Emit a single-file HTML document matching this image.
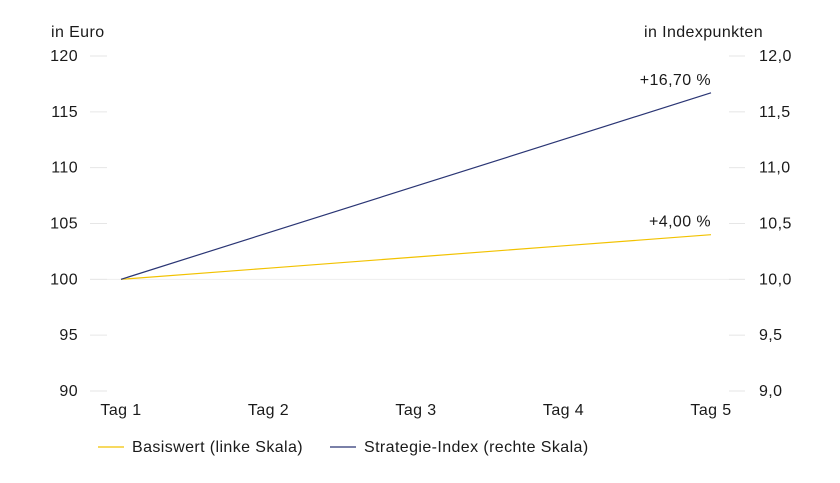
<!DOCTYPE html>
<html><head><meta charset="utf-8"><style>
body{margin:0;background:#fff;}
svg{font-family:"Liberation Sans",sans-serif;}
svg text{letter-spacing:0.4px;}
</style></head><body>
<svg id="chart" width="840" height="478" xmlns="http://www.w3.org/2000/svg">
<text x="51" y="37" font-size="16" fill="#1a1a1a">in Euro</text>
<text x="763" y="37" font-size="16" fill="#1a1a1a" text-anchor="end">in Indexpunkten</text>
<g id="axes"></g>
<g id="lines"></g>
<g>
<line x1="98" y1="447" x2="124" y2="447" stroke="#f2c200" stroke-width="1.2"/>
<text x="132" y="452" font-size="16" fill="#1a1a1a">Basiswert (linke Skala)</text>
<line x1="330" y1="447" x2="356" y2="447" stroke="#2a3574" stroke-width="1.2"/>
<text x="364" y="452" font-size="16" fill="#1a1a1a">Strategie-Index (rechte Skala)</text>
</g>
</svg>
<script>
const categories=["Tag 1","Tag 2","Tag 3","Tag 4","Tag 5"];
const basiswert=[100,101,102,103,104];
const strategie=[10.0,10.4175,10.835,11.2525,11.67];
const leftTicks=[90,95,100,105,110,115,120];
const rightTicks=["9,0","9,5","10,0","10,5","11,0","11,5","12,0"];
const rightTickVals=[9,9.5,10,10.5,11,11.5,12];
const endLabels=["+4,00 %","+16,70 %"];
const NS="http://www.w3.org/2000/svg";
const yL=v=>391-(v-90)/30*335;
const yR=v=>391-(v-9)/3*335;
const x=i=>121+i*147.5;
const ax=document.getElementById('axes'), ln=document.getElementById('lines');
function mk(tag,attrs,parent,txt){const e=document.createElementNS(NS,tag);for(const k in attrs)e.setAttribute(k,attrs[k]);if(txt!==undefined)e.textContent=txt;parent.appendChild(e);return e;}
const base=mk('line',{x1:90,x2:745,y1:yL(100),y2:yL(100),stroke:'#eeeeee','stroke-width':1},ax);


leftTicks.forEach(v=>{
 const t=mk('line',{x1:90,x2:107,y1:yL(v),y2:yL(v),stroke:'#e6e6e6'},ax);
 
 
 const l=mk('text',{x:78,y:yL(v)+5,'font-size':16,fill:'#1a1a1a','text-anchor':'end'},ax,String(v));
 
 
});
rightTickVals.forEach((v,i)=>{
 const t=mk('line',{x1:729,x2:745,y1:yR(v),y2:yR(v),stroke:'#e6e6e6'},ax);
 
 
 const l=mk('text',{x:759,y:yR(v)+5,'font-size':16,fill:'#1a1a1a'},ax,rightTicks[i]);
 
 
});
categories.forEach((c,i)=>{
 const l=mk('text',{x:x(i),y:415,'font-size':16,fill:'#1a1a1a','text-anchor':'middle'},ax,c);
 
 
});
const p1=mk('polyline',{points:basiswert.map((v,i)=>x(i)+','+yL(v)).join(' '),fill:'none',stroke:'#f2c200','stroke-width':1.2},ln);


const p2=mk('polyline',{points:strategie.map((v,i)=>x(i)+','+yR(v)).join(' '),fill:'none',stroke:'#2a3574','stroke-width':1.2},ln);


const n=categories.length-1;
const e1=mk('text',{x:x(n),y:yL(basiswert[n])-8,'font-size':16,fill:'#1a1a1a','text-anchor':'end'},ln,endLabels[0]);


const e2=mk('text',{x:x(n),y:yR(strategie[n])-8,'font-size':16,fill:'#1a1a1a','text-anchor':'end'},ln,endLabels[1]);


</script>
</body></html>
